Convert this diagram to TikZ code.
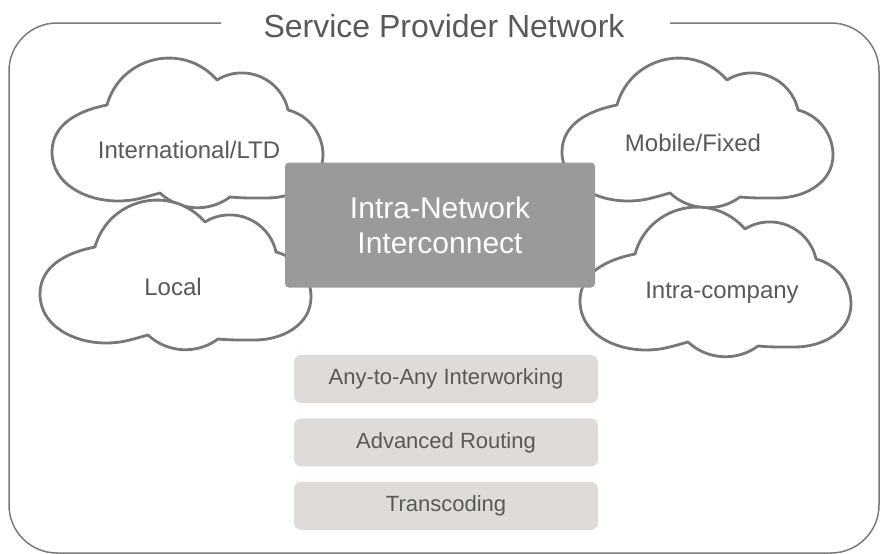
\documentclass[tikz,border=0pt]{standalone}
\usepackage{fontspec}
\setmainfont{Liberation Sans}
\usetikzlibrary{positioning}
\definecolor{framegray}{HTML}{7A7A7A}
\definecolor{cloudgray}{HTML}{777777}
\definecolor{hubgray}{HTML}{9A9A9A}
\definecolor{featgray}{HTML}{DEDBD8}
\definecolor{textgray}{HTML}{595959}

\tikzset{
  cloudline/.style={draw=cloudgray, fill=white, line width=2.8pt, line join=round},
  netcloud/.pic={
    \path[cloudline] (108,133) to[out=195,in=0] (66,141)
      to[out=180,in=270] (0,92) to[out=90,in=191] (55,45)
      to[out=74.5,in=131.1,looseness=1.155] (165,20)
      to[out=31.8,in=102.4,looseness=1.08] (236,50)
      to[out=-14.2,in=90,looseness=0.95] (271,95)
      to[out=270,in=0] (215,138) to[out=180,in=355] (178,137)
      to[out=216.7,in=316.8,looseness=0.96] (108,133) -- cycle;
  }
}

\begin{document}
\begin{tikzpicture}[x=1pt, y=-1pt,
    netlabel/.style={text=textgray, font=\fontsize{24}{27}\selectfont},
    hub/.style={fill=hubgray, rounded corners=4pt, minimum width=310pt,
      minimum height=125pt, text=white, align=center,
      font=\fontsize{30}{35}\selectfont},
    feature/.style={fill=featgray, rounded corners=7pt, minimum width=304pt,
      minimum height=48pt, text=textgray, font=\fontsize{22}{25}\selectfont}]
    \useasboundingbox (0,0) rectangle (887,554);

    % We start by placing the frame and its title
    \draw[framegray, line width=1.5pt, rounded corners=48pt]
      (221,23) -- (9,23) -- (9,553) -- (879,553) -- (879,23) -- (670,23);
    \node[name=title, text=textgray, font=\fontsize{32}{36}\selectfont]
      at (444,26) {Service Provider Network};

    % Clouds, the lower ones go on top
    \pic (intl) at (52,60) {netcloud};
    \pic (local) at (40,202) {netcloud};
    \pic (mobile) at (562,60) {netcloud};
    \pic (company) at (580,209) {netcloud};

    \node[netlabel, name=intl-l] at (189,150) {International/LTD};
    \node[netlabel, name=local-l] at (173,287) {Local};
    \node[netlabel, name=mobile-l] at (693,143) {Mobile/Fixed};
    \node[netlabel, name=company-l] at (722,293) {Intra-company};

    % The interconnect block
    \node[hub, name=hub] at (440,225) {Intra-Network\\Interconnect};

    % Functions below it
    \node[feature, name=f1] at (446,379) {Any-to-Any Interworking};
    \node[feature, name=f2, below=15pt of f1] {Advanced Routing};
    \node[feature, name=f3, below=15pt of f2] {Transcoding};
  \end{tikzpicture}
\end{document}
